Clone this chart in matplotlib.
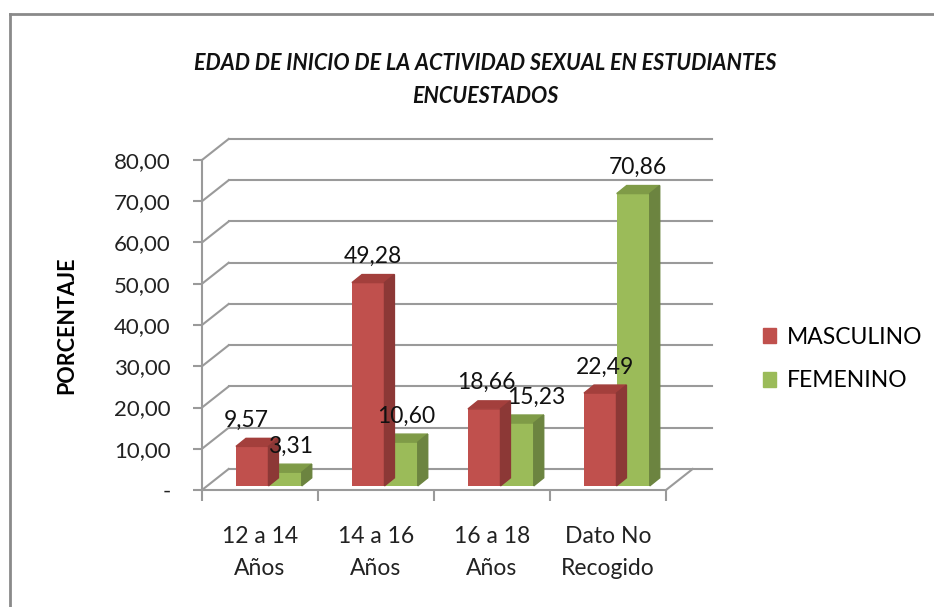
import matplotlib
matplotlib.use("Agg")
import numpy as np
import matplotlib.pyplot as plt
from matplotlib.patches import Polygon
from matplotlib.lines import Line2D

plt.rcParams['font.family'] = ['Lato', 'DejaVu Sans']

# data
categories = ["12 a 14\nAños", "14 a 16\nAños", "16 a 18\nAños", "Dato No\nRecogido"]
masculino = [9.57, 49.28, 18.66, 22.49]
femenino = [3.31, 10.60, 15.23, 70.86]
y_ticks = [0, 10, 20, 30, 40, 50, 60, 70, 80]
y_tick_labels = ["-", "10,00", "20,00", "30,00", "40,00", "50,00", "60,00", "70,00", "80,00"]
series_names = ["MASCULINO", "FEMENINO"]

# colours (front, side, top)
RED = ("#C0504D", "#8C3836", "#A33F3C")
GREEN = ("#9BBB59", "#6C8440", "#7F9B47")
GRID = "#9a9a9a"

# fake 3D geometry in data units
BDX, BDY = 0.23, 5.1       # back wall offset
DDX, DDY = 0.086, 1.95     # bar depth
BASE = 1.0                 # bar floor lift
W_RED, W_GRN = 0.28, 0.285
X_RIGHT = 3.9

W, H = 934, 607
fig = plt.figure(figsize=(W / 100, H / 100), dpi=100)
ax = fig.add_axes([202 / W, (H - 490) / H, 464 / W, 330 / H])
ax.set_xlim(-0.5, 3.5)
ax.set_ylim(0, 80)
ax.patch.set_visible(False)
for s in ["top", "right"]:
    ax.spines[s].set_visible(False)
for s in ["left", "bottom"]:
    ax.spines[s].set_color(GRID)
    ax.spines[s].set_linewidth(1.5)

# back wall gridlines + left wall diagonals
for v in y_ticks:
    ax.plot([-0.5 + BDX, X_RIGHT], [v + BDY, v + BDY], color=GRID, lw=1.5, clip_on=False, zorder=1)
    ax.plot([-0.5, -0.5 + BDX], [v, v + BDY], color=GRID, lw=1.5, clip_on=False, zorder=1)
ax.plot([3.5, 3.5 + BDX], [0, BDY], color=GRID, lw=1.5, clip_on=False, zorder=1)

x = np.arange(len(categories))


def bar3d(lefts, vals, width, cols):
    bars = ax.bar(lefts, vals, width=width, bottom=BASE, align="edge",
                  color=cols[0], clip_on=False, zorder=3)
    for b in bars:
        xl = b.get_x()
        xr = xl + b.get_width()
        top = b.get_y() + b.get_height()
        ax.add_patch(Polygon([(xl, top), (xl + DDX, top + DDY), (xr + DDX, top + DDY), (xr, top)],
                             closed=True, color=cols[2], clip_on=False, zorder=3))
        ax.add_patch(Polygon([(xr, BASE), (xr + DDX, BASE + DDY), (xr + DDX, top + DDY), (xr, top)],
                             closed=True, color=cols[1], clip_on=False, zorder=3))
    return bars


red_lefts = x - 0.207
grn_lefts = x + 0.075
bar3d(grn_lefts, femenino, W_GRN, GREEN)
bar3d(red_lefts, masculino, W_RED, RED)

# value labels
red_nudge = [-8, 0, -2, 0]
grn_nudge = [0, 0, 10, 0]
for i in range(len(categories)):
    ax.annotate(f"{masculino[i]:.2f}".replace(".", ","),
                (red_lefts[i] + W_RED / 2 + DDX / 2, masculino[i] + BASE + DDY + 4.4),
                xytext=(red_nudge[i], 0), textcoords="offset points",
                ha="center", va="center", fontsize=16.5, color="#111111", zorder=5, annotation_clip=False)
    ax.annotate(f"{femenino[i]:.2f}".replace(".", ","),
                (grn_lefts[i] + W_GRN / 2 + DDX / 2, femenino[i] + BASE + DDY + 4.4),
                xytext=(grn_nudge[i], 0), textcoords="offset points",
                ha="center", va="center", fontsize=16.5, color="#111111", zorder=5, annotation_clip=False)

# axes ticks and labels
ax.set_yticks(y_ticks)
ax.set_yticklabels(y_tick_labels, fontsize=16, color="#222222")
ax.tick_params(axis="y", direction="out", length=6.5, width=1.5, color=GRID, pad=16)
ax.set_xticks(np.arange(-0.5, 4.0, 1.0))
ax.set_xticklabels([])
ax.tick_params(axis="x", which="major", direction="out", length=8, width=1.5, color=GRID)
ax.set_xticks(x, minor=True)
ax.set_xticklabels(categories, minor=True, fontsize=16.5, color="#222222", linespacing=1.65)
ax.tick_params(axis="x", which="minor", length=0, pad=26)

ax.set_ylabel("PORCENTAJE", fontsize=15.5, fontweight="bold")
ax.yaxis.set_label_coords(-0.268, 0.5)

fig.text(485 / W, 1 - 80 / H,
         "EDAD DE INICIO DE LA ACTIVIDAD SEXUAL EN ESTUDIANTES\nENCUESTADOS",
         ha="center", va="center", fontsize=15.5, fontweight="bold", fontstyle="italic",
         linespacing=1.7, color="#111111")

# legend
handles = [plt.Rectangle((0, 0), 1, 1, color=RED[0]), plt.Rectangle((0, 0), 1, 1, color=GREEN[0])]
fig.legend(handles, series_names, loc="center left", bbox_to_anchor=(742 / W, 1 - 359 / H),
           frameon=False, fontsize=16.5, handlelength=0.6, handleheight=0.6,
           handletextpad=0.45, labelspacing=1.0)

# chart-area border (top and left edges visible)
fig.add_artist(Line2D([10 / W, 1], [1 - 14 / H, 1 - 14 / H], color="#8a8a8a", lw=2))
fig.add_artist(Line2D([10 / W, 10 / W], [0, 1 - 14 / H], color="#8a8a8a", lw=2))

fig.savefig("out.png", dpi=100)
